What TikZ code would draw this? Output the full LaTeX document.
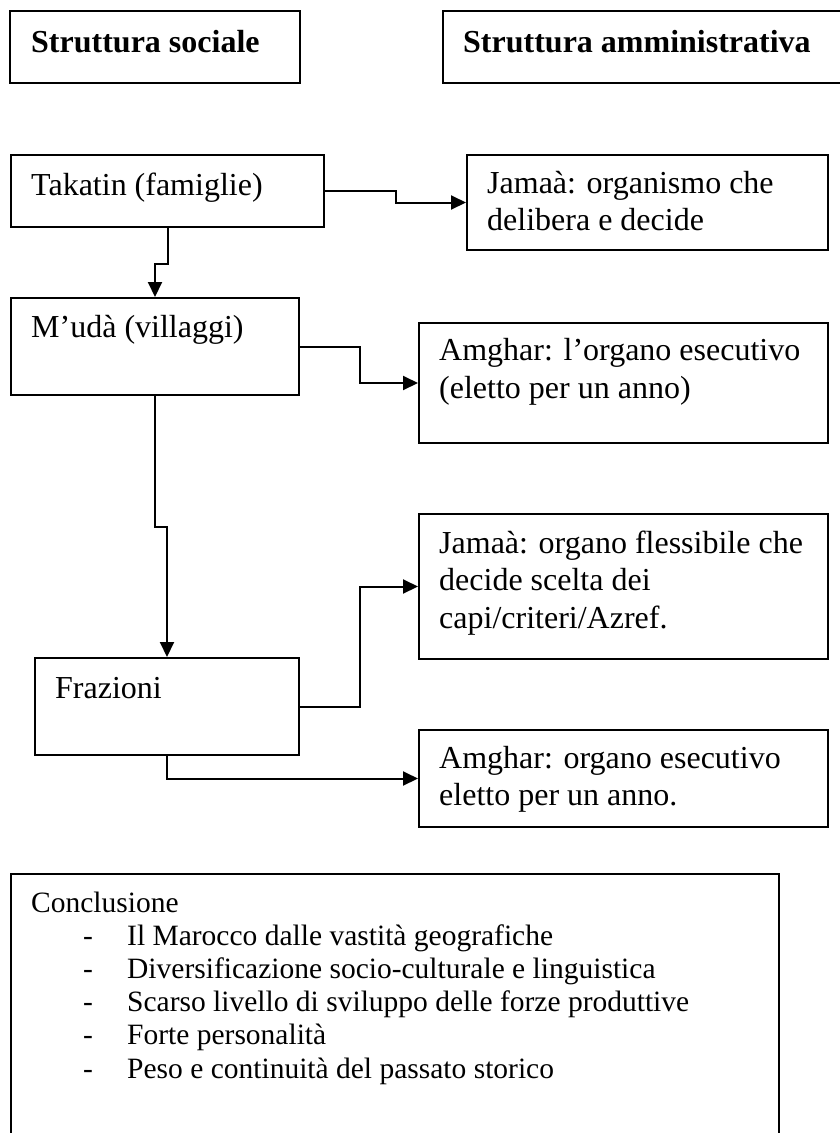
\documentclass[tikz,border=0pt]{standalone}
\usepackage{fontspec}
\setmainfont{Liberation Serif}
\usetikzlibrary{arrows.meta}
\tikzset{
  box/.style={draw=black, line width=2pt, inner sep=0pt, anchor=north west},
  txt/.style={anchor=base west, inner sep=0pt, font=\fontsize{32}{37.5}\selectfont},
  hdr/.style={anchor=base west, inner sep=0pt, font=\fontsize{32}{37.5}\selectfont\bfseries},
  ctxt/.style={anchor=base west, inner sep=0pt, font=\fontsize{29.5}{33.3}\selectfont},
  arr/.style={line width=2pt, -{Triangle[length=15pt,width=14pt]}},
}
\begin{document}
\begin{tikzpicture}[x=1pt,y=-1pt]
\useasboundingbox (0,0) rectangle (840,1133);
\clip (0,0) rectangle (840,1133);
% header boxes
\node[box, minimum width=290pt, minimum height=72pt] (soc) at (9,10) {};
\node[box, minimum width=420pt, minimum height=72pt] (adm) at (442,10) {};
\node[hdr] (socT) at (31,52) {Struttura sociale};
\node[hdr] (admT) at (463,52) {Struttura amministrativa};
% left column
\node[box, minimum width=313pt, minimum height=72pt] (tak) at (10,154) {};
\node[txt] (takT) at (31,195) {Takatin (famiglie)};
\node[box, minimum width=288pt, minimum height=97pt] (mud) at (10,297) {};
\node[txt] (mudT) at (31,337) {M’udà (villaggi)};
\node[box, minimum width=264pt, minimum height=97pt] (fra) at (34,657) {};
\node[txt] (fraT) at (55,698) {Frazioni};
% right column
\node[box, minimum width=361pt, minimum height=95pt] (jam1) at (466,154) {};
\node[txt] (jam1a) at (487,193) {Jamaà: organismo che};
\node[txt] (jam1b) at (487,230) {delibera e decide};
\node[box, minimum width=409pt, minimum height=120pt] (amg1) at (418,322) {};
\node[txt] (amg1a) at (439,360) {Amghar: l’organo esecutivo};
\node[txt] (amg1b) at (439,398) {(eletto per un anno)};
\node[box, minimum width=409pt, minimum height=145pt] (jam2) at (418,513) {};
\node[txt] (jam2a) at (439,553) {Jamaà: organo flessibile che};
\node[txt] (jam2b) at (439,590) {decide scelta dei};
\node[txt] (jam2c) at (439,628) {capi/criteri/Azref.};
\node[box, minimum width=409pt, minimum height=97pt] (amg2) at (418,729) {};
\node[txt] (amg2a) at (439,768) {Amghar: organo esecutivo};
\node[txt] (amg2b) at (439,805) {eletto per un anno.};
% connectors
\draw[arr] (tak.east) -- ++(71,0) |- (jam1.west);
\draw[arr] (tak.south) -- ++(0,36) -| (mud.north);
\draw[arr] (mud.east) -- ++(60,0) |- (amg1.west);
\draw[arr] (mud.south) -- ++(0,131) -| (fra.north);
\draw[arr] (fra.east) -- ++(60,0) |- (jam2.west);
\draw[arr] (fra.south) |- (amg2.west);
% conclusion
\node[box, minimum width=768pt, minimum height=290pt] (conc) at (10,873) {};
\node[ctxt] (concT) at (31,912) {Conclusione};
\node[ctxt] (d1) at (83,945) {-};
\node[ctxt] (i1) at (127,945) {Il Marocco dalle vastità geografiche};
\node[ctxt] (d2) at (83,978.3) {-};
\node[ctxt] (i2) at (127,978.3) {Diversificazione socio-culturale e linguistica};
\node[ctxt] (d3) at (83,1011.6) {-};
\node[ctxt] (i3) at (127,1011.6) {Scarso livello di sviluppo delle forze produttive};
\node[ctxt] (d4) at (83,1044.9) {-};
\node[ctxt] (i4) at (127,1044.9) {Forte personalità};
\node[ctxt] (d5) at (83,1078.2) {-};
\node[ctxt] (i5) at (127,1078.2) {Peso e continuità del passato storico};
\end{tikzpicture}
\end{document}
